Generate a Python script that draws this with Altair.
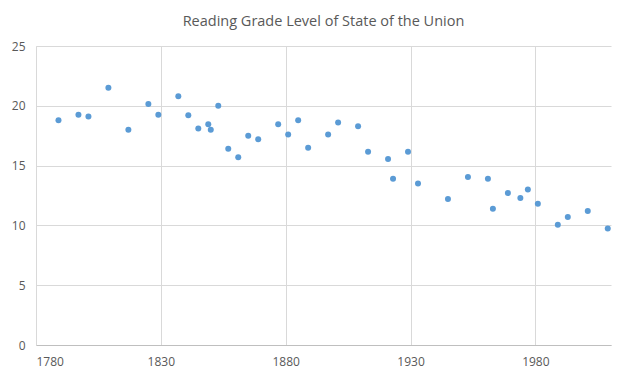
import altair as alt
import pandas as pd

years = [1789, 1797, 1801, 1809, 1817, 1825, 1829, 1837, 1841, 1845, 1849, 1850,
         1853, 1857, 1861, 1865, 1869, 1877, 1881, 1885, 1889, 1897, 1901, 1909,
         1913, 1921, 1923, 1929, 1933, 1945, 1953, 1961, 1963, 1969, 1974, 1977,
         1981, 1989, 1993, 2001, 2009]
grade = [18.8, 19.25, 19.1, 21.5, 18.0, 20.15, 19.25, 20.8, 19.2, 18.1, 18.45, 18.0,
         20.0, 16.4, 15.7, 17.5, 17.2, 18.45, 17.6, 18.8, 16.5, 17.6, 18.6, 18.3,
         16.15, 15.55, 13.9, 16.15, 13.5, 12.2, 14.05, 13.9, 11.4, 12.7, 12.3, 13.0,
         11.8, 10.05, 10.7, 11.2, 9.75]
x_ticks = [1780, 1830, 1880, 1930, 1980]
y_ticks = [0, 5, 10, 15, 20, 25]

df = pd.DataFrame({"year": years, "grade": grade})

font = "Open Sans"
chart = alt.Chart(df).mark_circle(size=36, color="#5b9bd5", opacity=1).encode(
    x=alt.X("year:Q", scale=alt.Scale(domain=[1780, 2010.3], nice=False, zero=False),
            axis=alt.Axis(values=x_ticks, format="d", title=None, tickSize=0,
                          labelPadding=11, domainColor="#bfbfbf", gridColor="#d9d9d9",
                          labelColor="#595959", labelFontSize=12, labelFont=font)),
    y=alt.Y("grade:Q", scale=alt.Scale(domain=[0, 25], nice=False),
            axis=alt.Axis(values=y_ticks, title=None, tickSize=0, labelPadding=11,
                          domainColor="#d9d9d9", gridColor="#d9d9d9",
                          labelColor="#595959", labelFontSize=12, labelFont=font)),
).properties(
    width=575,
    height=299,
    title=alt.TitleParams("Reading Grade Level of State of the Union", font=font,
                          fontSize=14.5, fontWeight="normal", color="#595959", offset=11),
    autosize=alt.AutoSizeParams(type="none"),
    padding={"left": 28, "top": 38, "right": 15, "bottom": 25},
).configure_view(stroke=None)

chart.save("out.html", embed_options={"renderer": "svg", "actions": False})
